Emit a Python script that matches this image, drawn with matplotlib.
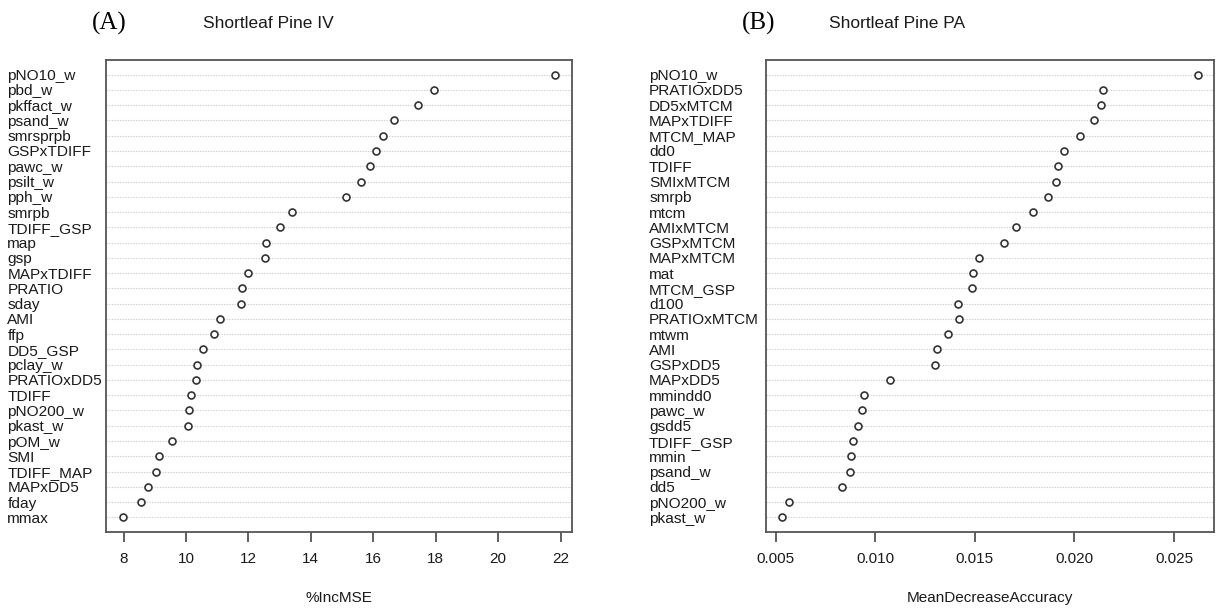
import matplotlib.pyplot as plt
from matplotlib.ticker import FixedLocator

plt.rcParams['font.family'] = ['Liberation Sans', 'DejaVu Sans']

# panel A: %IncMSE, top to bottom
iv_vars = ['pNO10_w', 'pbd_w', 'pkffact_w', 'psand_w', 'smrsprpb', 'GSPxTDIFF',
           'pawc_w', 'psilt_w', 'pph_w', 'smrpb', 'TDIFF_GSP', 'map', 'gsp',
           'MAPxTDIFF', 'PRATIO', 'sday', 'AMI', 'ffp', 'DD5_GSP', 'pclay_w',
           'PRATIOxDD5', 'TDIFF', 'pNO200_w', 'pkast_w', 'pOM_w', 'SMI',
           'TDIFF_MAP', 'MAPxDD5', 'fday', 'mmax']
iv_vals = [21.81, 17.93, 17.42, 16.65, 16.32, 16.09, 15.90, 15.60, 15.14, 13.39,
           13.02, 12.56, 12.53, 11.98, 11.81, 11.75, 11.08, 10.91, 10.54, 10.34,
           10.31, 10.17, 10.11, 10.06, 9.55, 9.12, 9.04, 8.77, 8.57, 7.99]
iv_ticks = [8, 10, 12, 14, 16, 18, 20, 22]

# panel B: MeanDecreaseAccuracy, top to bottom
pa_vars = ['pNO10_w', 'PRATIOxDD5', 'DD5xMTCM', 'MAPxTDIFF', 'MTCM_MAP', 'dd0',
           'TDIFF', 'SMIxMTCM', 'smrpb', 'mtcm', 'AMIxMTCM', 'GSPxMTCM',
           'MAPxMTCM', 'mat', 'MTCM_GSP', 'd100', 'PRATIOxMTCM', 'mtwm', 'AMI',
           'GSPxDD5', 'MAPxDD5', 'mmindd0', 'pawc_w', 'gsdd5', 'TDIFF_GSP',
           'mmin', 'psand_w', 'dd5', 'pNO200_w', 'pkast_w']
pa_vals = [0.02619, 0.02146, 0.02131, 0.02099, 0.02028, 0.01949, 0.01916,
           0.01906, 0.01866, 0.01792, 0.01706, 0.01645, 0.01522, 0.01493,
           0.01488, 0.01418, 0.01420, 0.01367, 0.01308, 0.01300, 0.01076,
           0.00946, 0.00934, 0.00912, 0.00891, 0.00877, 0.00874, 0.00831,
           0.00569, 0.00534]
pa_ticks = [0.005, 0.010, 0.015, 0.020, 0.025]
pa_ticklabels = ['0.005', '0.010', '0.015', '0.020', '0.025']

fig = plt.figure(figsize=(12.25, 6.11), dpi=100)
axA = fig.add_axes([0.0865, 0.1293, 0.3804, 0.7725])
axB = fig.add_axes([0.6251, 0.1293, 0.3662, 0.7725])


def dotchart(ax, names, vals, ticks, ticklabels, xlabel, title, tag, label_pad, tag_x, title_x):
    n = len(vals)
    ypos = list(range(n, 0, -1))
    for y in ypos:
        ax.axhline(y, color='#cfcfcf', lw=0.8, ls=(0, (1.2, 1.2)), zorder=1)
    ax.plot(vals, ypos, 'o', ms=5, mfc='white', mec='#333333', mew=1.2, ls='none', zorder=3)
    lo, hi = min(vals), max(vals)
    ext = (hi - lo) * 0.04
    ax.set_xlim(lo - ext, hi + ext)
    ax.set_ylim(0.04, n + 0.96)
    ax.set_yticks(ypos)
    ax.set_yticklabels(names, fontsize=11.1, color='#1a1a1a', ha='left')
    ax.tick_params(axis='y', length=0, pad=label_pad)
    ax.xaxis.set_major_locator(FixedLocator(ticks))
    ax.set_xticklabels(ticklabels, fontsize=11, color='#1a1a1a')
    ax.tick_params(axis='x', length=7.5, width=1.2, color='#444444', pad=7)
    ax.set_xlabel(xlabel, fontsize=11, color='#1a1a1a', labelpad=18)
    for s in ax.spines.values():
        s.set_color('#555555')
        s.set_linewidth(1.3)
    fig.text(title_x, 1 - 24 / 611, title, fontsize=12.5, color='#1a1a1a',
             ha='center', va='center')
    fig.text(tag_x, 1 - 23 / 611, tag, fontsize=18, family='Liberation Serif',
             color='black', ha='center', va='center')


dotchart(axA, iv_vars, iv_vals, iv_ticks, [str(t) for t in iv_ticks], '%IncMSE',
         'Shortleaf Pine IV', '(A)', 71, 109 / 1225, 268 / 1225)
dotchart(axB, pa_vars, pa_vals, pa_ticks, pa_ticklabels, 'MeanDecreaseAccuracy',
         'Shortleaf Pine PA', '(B)', 84, 759 / 1225, 897 / 1225)

fig.savefig('out.png', dpi=100)
